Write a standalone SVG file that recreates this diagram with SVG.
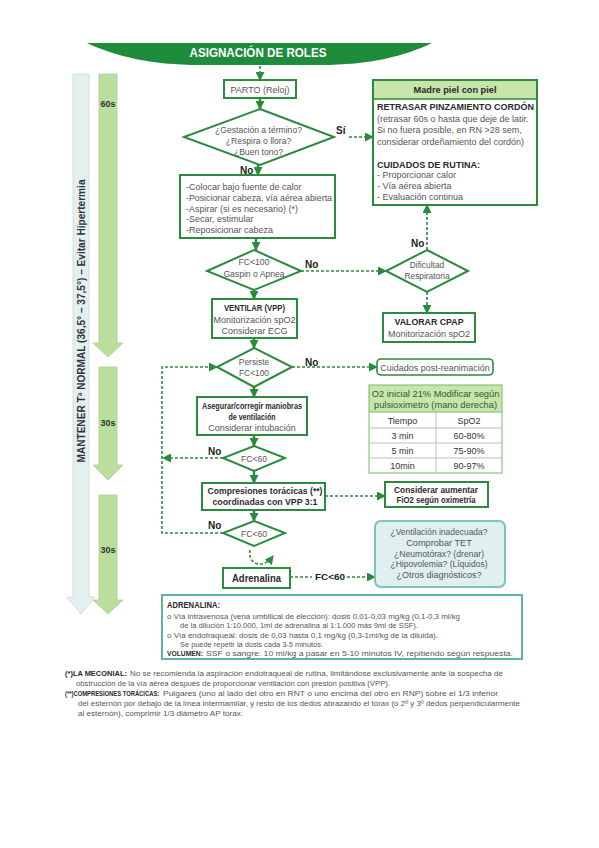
<svg xmlns="http://www.w3.org/2000/svg" width="599" height="848" viewBox="0 0 599 848">
<style>
.t{font-family:"Liberation Sans",Arial,sans-serif;font-size:9px;fill:#555}
.c{text-anchor:middle}
.b{font-weight:bold;fill:#2a2a2a}
.lb{font-family:"Liberation Sans",Arial,sans-serif;font-size:10px;font-weight:bold;fill:#222}
.box{fill:#fff;stroke:#2b8a3e;stroke-width:2}
.dash{fill:none;stroke:#2b8a3e;stroke-width:1.6;stroke-dasharray:3 2}
.sol{fill:none;stroke:#2b8a3e;stroke-width:2.5}
.gbar{fill:#b9de9d;stroke:#a9d28a;stroke-width:0.8}
.tbl{fill:none;stroke-width:1}
.s86{font-size:8.6px}
.s84{font-size:8.4px}
.s8{font-size:8px}
.s78{font-size:7.8px}
.s92{font-size:9.2px}
.dk{fill:#333}
.tg{fill:#2f5a30;font-size:9.3px}
</style>
<defs>
<marker id="ah" markerUnits="userSpaceOnUse" markerWidth="9" markerHeight="9" refX="8" refY="4.5" orient="auto">
<path d="M0,0 L9,4.5 L0,9 z" fill="#2b8a3e"/>
</marker>
</defs>
<rect width="599" height="848" fill="#fff"/>

<g id="side-bars">
<polygon points="73,74 89,74 89,597 95,597 81,614 67,597 73,597" fill="#e4eff0" stroke="#c6dadb" stroke-width="0.8"/>
<text class="t b c" transform="translate(85,321) rotate(-90)" style="font-size:10px;fill:#333" textLength="283" lengthAdjust="spacingAndGlyphs">MANTENER Tª NORMAL (36,5° – 37,5°) – Evitar Hipertermia</text>
<polygon class="gbar" points="99,74 117,74 117,343 123,343 108,357 93,343 99,343"/>
<polygon class="gbar" points="99,367 117,367 117,465 123,465 108,480 93,465 99,465"/>
<polygon class="gbar" points="99,495 117,495 117,600 123,600 108,614 93,600 99,600"/>
<text class="t b c dk" x="108" y="107">60s</text>
<text class="t b c dk" x="108" y="426">30s</text>
<text class="t b c dk" x="108" y="553">30s</text>
</g>

<g id="header">
<path d="M87,43 H432 C405,56 370,65 320,65 H200 C150,65 115,56 87,43 Z" fill="#1e8c3a"/>
<text class="t b c" x="258" y="57" style="font-size:12.5px;fill:#fff" textLength="137" lengthAdjust="spacingAndGlyphs">ASIGNACIÓN DE ROLES</text>
</g>

<g id="connectors">
<line class="dash" x1="260" y1="66" x2="260" y2="80" marker-end="url(#ah)"/>
<line class="sol" x1="260" y1="98" x2="260" y2="109" marker-end="url(#ah)"/>
<line class="dash" x1="349" y1="137" x2="373" y2="137" marker-end="url(#ah)"/>
<line class="sol" x1="258" y1="165" x2="258" y2="175" marker-end="url(#ah)"/>
<line class="sol" x1="256" y1="238" x2="256" y2="250" marker-end="url(#ah)"/>
<line class="dash" x1="301" y1="271" x2="386" y2="271" marker-end="url(#ah)"/>
<line class="dash" x1="427" y1="250" x2="427" y2="205" marker-end="url(#ah)"/>
<line class="dash" x1="427" y1="292" x2="427" y2="313" marker-end="url(#ah)"/>
<line class="sol" x1="254" y1="290" x2="254" y2="299" marker-end="url(#ah)"/>
<line class="sol" x1="254" y1="338" x2="254" y2="348" marker-end="url(#ah)"/>
<line class="dash" x1="292" y1="367" x2="377" y2="367" marker-end="url(#ah)"/>
<line class="sol" x1="254" y1="387" x2="254" y2="397" marker-end="url(#ah)"/>
<line class="sol" x1="254" y1="435" x2="254" y2="446" marker-end="url(#ah)"/>
<line class="dash" x1="223" y1="458" x2="163" y2="458" marker-end="url(#ah)"/>
<line class="sol" x1="254" y1="471" x2="254" y2="483" marker-end="url(#ah)"/>
<line class="dash" x1="325" y1="496" x2="385" y2="496" marker-end="url(#ah)"/>
<line class="sol" x1="254" y1="510" x2="254" y2="521" marker-end="url(#ah)"/>
<path class="dash" d="M223,533 H162 V367 H217" marker-end="url(#ah)"/>
<path class="dash" d="M250,550 C247,563 262,571 273,556" marker-end="url(#ah)"/>
<line class="dash" x1="290" y1="577" x2="312" y2="577"/>
<line class="dash" x1="347" y1="577" x2="375" y2="577" marker-end="url(#ah)"/>
<text class="lb" x="336" y="134">Sí</text>
<text class="lb" x="240" y="174">No</text>
<text class="lb" x="305" y="268">No</text>
<text class="lb" x="411" y="247">No</text>
<text class="lb" x="305" y="366">No</text>
<text class="lb" x="208" y="455">No</text>
<text class="lb" x="208" y="529">No</text>
<text class="lb c" x="330" y="580" style="font-size:9.5px" textLength="30" lengthAdjust="spacingAndGlyphs">FC&lt;60</text>
</g>

<g id="parto">
<rect class="box" x="224" y="80" width="72" height="18"/>
<text class="t c" x="260" y="92.5">PARTO (Reloj)</text>
</g>

<g id="decision-termino">
<polygon class="box" points="260,109 334,137 260,165 184,137"/>
<text class="t c s86" x="258.5" y="133">¿Gestación a término?</text>
<text class="t c s86" x="258.5" y="144">¿Respira o llora?</text>
<text class="t c s86" x="258.5" y="154.5">¿Buen tono?</text>
</g>

<g id="pasos-iniciales">
<rect class="box" x="180" y="175" width="155" height="63"/>
<text class="t" x="186" y="190">-Colocar bajo fuente de calor</text>
<text class="t" x="186" y="201" textLength="146" lengthAdjust="spacingAndGlyphs">-Posicionar cabeza, vía aérea abierta</text>
<text class="t" x="186" y="211.5">-Aspirar (si es necesario) (*)</text>
<text class="t" x="186" y="222">-Secar, estimular</text>
<text class="t" x="186" y="233">-Reposicionar cabeza</text>
</g>

<g id="madre-piel">
<rect x="373" y="80" width="164" height="125" fill="#fff" stroke="#2b8a3e" stroke-width="2"/>
<rect x="374" y="81" width="162" height="18" fill="#c7e6ab"/>
<line x1="373" y1="99" x2="537" y2="99" stroke="#2b8a3e" stroke-width="1.5"/>
<text class="t b c" x="455" y="93" textLength="83" lengthAdjust="spacingAndGlyphs">Madre piel con piel</text>
<text class="t b" x="377" y="109.5" textLength="157" lengthAdjust="spacingAndGlyphs">RETRASAR PINZAMIENTO CORDÓN</text>
<text class="t" x="377" y="121.5">(retrasar 60s o hasta que deje de latir.</text>
<text class="t" x="377" y="133">Si no fuera posible, en RN &gt;28 sem,</text>
<text class="t" x="377" y="144.5">considerar ordeñamiento del cordón)</text>
<text class="t b" x="377" y="167.5" textLength="103" lengthAdjust="spacingAndGlyphs">CUIDADOS DE RUTINA:</text>
<text class="t" x="377" y="177.5">- Proporcionar calor</text>
<text class="t" x="377" y="189">- Vía aérea abierta</text>
<text class="t" x="377" y="200">- Evaluación continua</text>
</g>

<g id="decision-fc100">
<polygon class="box" points="254,250 301,271 254,290 207,271"/>
<text class="t c s86" x="254" y="265">FC&lt;100</text>
<text class="t c s86" x="254" y="276.5">Gaspin o Apnea</text>
</g>

<g id="decision-dificultad">
<polygon class="box" points="427,250 468,271 427,292 386,271"/>
<text class="t c s84" x="427" y="268">Dificultad</text>
<text class="t c s84" x="427" y="278.5">Respiratoria</text>
</g>

<g id="valorar-cpap">
<rect class="box" x="383" y="313" width="92" height="29"/>
<text class="t b c" x="429" y="325" textLength="69" lengthAdjust="spacingAndGlyphs">VALORAR CPAP</text>
<text class="t c" x="429" y="336.5">Monitorización spO2</text>
</g>

<g id="ventilar">
<rect class="box" x="212" y="299" width="85" height="39"/>
<text class="t b c" x="254.5" y="311" textLength="61" lengthAdjust="spacingAndGlyphs">VENTILAR (VPP)</text>
<text class="t c" x="254.5" y="323">Monitorización spO2</text>
<text class="t c" x="254.5" y="334">Considerar ECG</text>
</g>

<g id="decision-persiste">
<polygon class="box" points="254,348 292,367 254,387 217,367"/>
<text class="t c s84" x="254" y="365">Persiste</text>
<text class="t c s84" x="254" y="376">FC&lt;100</text>
</g>

<g id="post-reanimacion">
<rect x="377" y="359" width="116" height="16" rx="4" fill="#fff" stroke="#2b8a3e" stroke-width="1.6"/>
<text class="t c" x="435" y="370.5">Cuidados post-reanimación</text>
</g>

<g id="tabla-o2">
<rect x="369" y="385" width="133" height="27" fill="#c7e6ab"/>
<rect class="tbl" x="369" y="385" width="133" height="88" stroke="#78b865"/>
<line class="tbl" x1="369" y1="412" x2="502" y2="412" stroke="#78b865"/>
<line class="tbl" x1="369" y1="428" x2="502" y2="428" stroke="#bbb"/>
<line class="tbl" x1="369" y1="443" x2="502" y2="443" stroke="#bbb"/>
<line class="tbl" x1="369" y1="458" x2="502" y2="458" stroke="#bbb"/>
<line class="tbl" x1="436" y1="412" x2="436" y2="473" stroke="#bbb"/>
<text class="t c tg" x="435.5" y="396.5">O2 inicial 21% Modificar según</text>
<text class="t c tg" x="435.5" y="408">pulsioximetro (mano derecha)</text>
<text class="t c dk" x="402.5" y="423.5">Tiempo</text>
<text class="t c dk" x="469" y="423.5">SpO2</text>
<text class="t c dk" x="402.5" y="439">3 min</text>
<text class="t c dk" x="469" y="439">60-80%</text>
<text class="t c dk" x="402.5" y="454">5 min</text>
<text class="t c dk" x="469" y="454">75-90%</text>
<text class="t c dk" x="402.5" y="469">10min</text>
<text class="t c dk" x="469" y="469">90-97%</text>
</g>

<g id="asegurar">
<rect class="box" x="197" y="397" width="110" height="38"/>
<text class="t b c" x="252" y="409" textLength="100" lengthAdjust="spacingAndGlyphs">Asegurar/corregir maniobras</text>
<text class="t b c" x="252" y="419.5" textLength="47" lengthAdjust="spacingAndGlyphs">de ventilación</text>
<text class="t c" x="252" y="431">Considerar intubación</text>
</g>

<g id="decision-fc60a">
<polygon class="box" points="254,446 285,458 254,471 223,458"/>
<text class="t c s86" x="254" y="461.5">FC&lt;60</text>
</g>

<g id="compresiones">
<rect class="box" x="202" y="483" width="123" height="27"/>
<text class="t b c" x="265" y="494" textLength="115" lengthAdjust="spacingAndGlyphs">Compresiones torácicas (**)</text>
<text class="t b c" x="265" y="505" textLength="105" lengthAdjust="spacingAndGlyphs">coordinadas con VPP 3:1</text>
</g>

<g id="considerar-fio2">
<rect class="box" x="385" y="482" width="103" height="25"/>
<text class="t b c" x="436" y="492.5" textLength="84" lengthAdjust="spacingAndGlyphs">Considerar aumentar</text>
<text class="t b c" x="436" y="503" textLength="79" lengthAdjust="spacingAndGlyphs">FiO2 según oximetría</text>
</g>

<g id="decision-fc60b">
<polygon class="box" points="254,521 285,533 254,546 223,533"/>
<text class="t c s86" x="254" y="536.5">FC&lt;60</text>
</g>

<g id="adrenalina">
<rect class="box" x="223" y="568" width="67" height="20"/>
<text class="t b c" x="256.5" y="581.5" style="font-size:10px" textLength="49" lengthAdjust="spacingAndGlyphs">Adrenalina</text>
</g>

<g id="diagnosticos">
<rect x="375" y="521" width="130" height="66" rx="6" fill="#e0f0ef" stroke="#7cc3bd" stroke-width="2"/>
<text class="t c s92" x="439" y="535" textLength="97" lengthAdjust="spacingAndGlyphs">¿Ventilación inadecuada?</text>
<text class="t c s92" x="439" y="546">Comprobar TET</text>
<text class="t c s92" x="439" y="556.5" textLength="90" lengthAdjust="spacingAndGlyphs">¿Neumotórax? (drenar)</text>
<text class="t c s92" x="439" y="567" textLength="97" lengthAdjust="spacingAndGlyphs">¿Hipovolemia? (Líquidos)</text>
<text class="t c s92" x="439" y="578" textLength="85" lengthAdjust="spacingAndGlyphs">¿Otros diagnósticos?</text>
</g>

<g id="info-adrenalina">
<rect x="162" y="595" width="360" height="64" fill="#fff" stroke="#5db3aa" stroke-width="2"/>
<text class="t b" x="167" y="608" style="font-size:8.2px" textLength="53" lengthAdjust="spacingAndGlyphs">ADRENALINA:</text>
<text class="t s8" x="167" y="619" textLength="293" lengthAdjust="spacingAndGlyphs">o Vía intravenosa (vena umbilical de elección): dosis 0,01-0,03 mg/kg (0,1-0,3 ml/kg</text>
<text class="t s8" x="180" y="628" textLength="238" lengthAdjust="spacingAndGlyphs">de la dilución 1:10.000, 1ml de adrenalina al 1:1.000 más 9ml de SSF).</text>
<text class="t s8" x="167" y="637.5" textLength="271" lengthAdjust="spacingAndGlyphs">o Vía endotraqueal: dosis de 0,03 hasta 0,1 mg/kg (0,3-1ml/kg de la diluida).</text>
<text class="t s8" x="180" y="646.5" textLength="143" lengthAdjust="spacingAndGlyphs">Se puede repetir la dosis cada 3-5 minutos.</text>
<text class="t b s8" x="167" y="655.5" textLength="36" lengthAdjust="spacingAndGlyphs">VOLUMEN:</text>
<text class="t s8" x="206" y="655.5" textLength="307" lengthAdjust="spacingAndGlyphs">SSF o sangre: 10 ml/kg a pasar en 5-10 minutos IV, repitiendo según respuesta.</text>
</g>

<g id="notas">
<text class="t b s78" x="65" y="676" textLength="62" lengthAdjust="spacingAndGlyphs">(*)LA MECONIAL:</text>
<text class="t s78" x="130" y="676" textLength="373" lengthAdjust="spacingAndGlyphs">No se recomienda la aspiración endotraqueal de rutina, limitándose exclusivamente ante la sospecha de</text>
<text class="t s78" x="76" y="686" textLength="314" lengthAdjust="spacingAndGlyphs">obstrucción de la vía aérea después de proporcionar ventilación con presión positiva (VPP).</text>
<text class="t b s78" transform="translate(65,696) scale(0.75,1)">(**)COMPRESIONES TORÁCICAS:</text>
<text class="t s78" x="163" y="696" textLength="335" lengthAdjust="spacingAndGlyphs">Pulgares (uno al lado del otro en RNT o uno encima del otro en RNP) sobre el 1/3 inferior</text>
<text class="t s78" x="78" y="706" textLength="442" lengthAdjust="spacingAndGlyphs">del esternón por debajo de la línea intermamilar, y resto de los dedos abrazando el tórax (o 2º y 3º dedos perpendicularmente</text>
<text class="t s78" x="78" y="716" textLength="165" lengthAdjust="spacingAndGlyphs">al esternón), comprimir 1/3 diámetro AP tórax.</text>
</g>
</svg>
